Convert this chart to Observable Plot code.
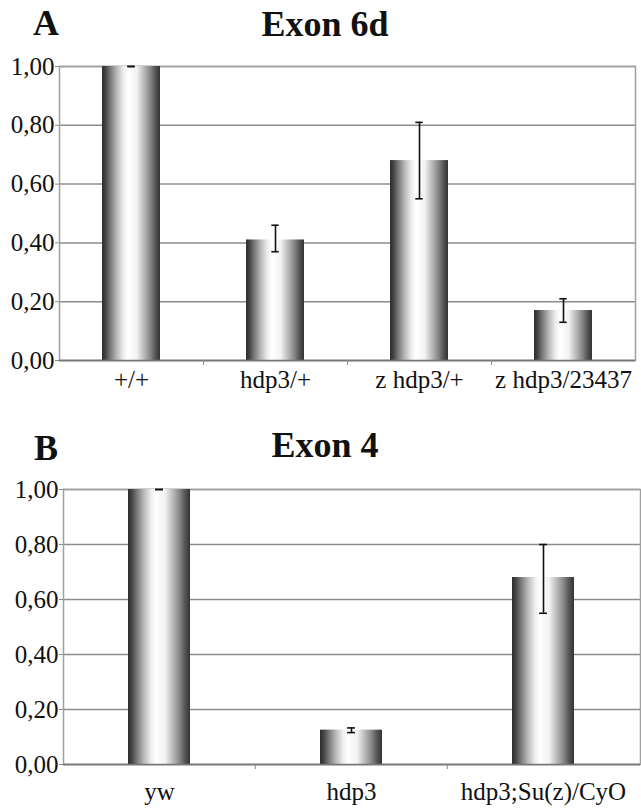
<!DOCTYPE html>
<html><head><meta charset="utf-8">
<script src="https://cdn.jsdelivr.net/npm/d3@7"></script>
<script src="https://cdn.jsdelivr.net/npm/@observablehq/plot@0.6"></script>
<style>
body{margin:0;background:#fff;}
#page{position:relative;width:641px;height:808px;overflow:hidden;font-family:"Liberation Serif","Times New Roman",serif;background:#fff;}
.title{position:absolute;font-weight:bold;font-size:36px;line-height:36px;color:#111;white-space:nowrap;}
.chart{position:absolute;left:0;}
</style></head><body>
<div id="page">
  <div class="title" style="left:33px;top:5px">A</div>
  <div class="title" style="left:325px;top:6px;transform:translateX(-50%)">Exon 6d</div>
  <div class="chart" id="chartA" style="top:46px"></div>
  <div class="title" style="left:34px;top:430px">B</div>
  <div class="title" style="left:325px;top:427px;transform:translateX(-50%)">Exon 4</div>
  <div class="chart" id="chartB" style="top:468px"></div>
</div>
<script>
// ---- data ----
const yTicks = [0, 0.2, 0.4, 0.6, 0.8, 1.0];
const yTickLabels = ["0,00", "0,20", "0,40", "0,60", "0,80", "1,00"];

const catsA = ["+/+", "hdp3/+", "z hdp3/+", "z hdp3/23437"];
const valsA = [1.00, 0.41, 0.68, 0.17];
const errLoA = [1.00, 0.37, 0.55, 0.13];
const errHiA = [1.00, 0.46, 0.81, 0.21];

const catsB = ["yw", "hdp3", "hdp3;Su(z)/CyO"];
const valsB = [1.00, 0.125, 0.68];
const errLoB = [1.00, 0.116, 0.55];
const errHiB = [1.00, 0.133, 0.80];

const labelMap = new Map(yTicks.map((t, i) => [t, yTickLabels[i]]));

// gradient style (dark edges, light centre)
const gradStops = [
  [0, "#2e2e2e"], [0.06, "#444"], [0.14, "#777"], [0.26, "#bbb"], [0.37, "#eee"],
  [0.45, "#fff"], [0.6, "#f2f2f2"], [0.72, "#bbb"], [0.83, "#888"], [0.92, "#555"], [1, "#333"]
];

function addGradient(svg, id) {
  const ns = "http://www.w3.org/2000/svg";
  const defs = document.createElementNS(ns, "defs");
  const g = document.createElementNS(ns, "linearGradient");
  g.setAttribute("id", id);
  g.setAttribute("x1", "0"); g.setAttribute("y1", "0");
  g.setAttribute("x2", "1"); g.setAttribute("y2", "0");
  for (const [o, c] of gradStops) {
    const s = document.createElementNS(ns, "stop");
    s.setAttribute("offset", o);
    s.setAttribute("stop-color", c);
    g.appendChild(s);
  }
  defs.appendChild(g);
  svg.insertBefore(defs, svg.firstChild);
}

function drawChart(o) {
  const W = 641;
  const n = o.cats.length;
  const step = (W - o.mL - o.mR) / n;
  const bw = step * o.barFrac;
  const capInset = (bw - o.capW) / 2;
  const rows = o.cats.map((c, i) => ({name: c, value: o.vals[i], lo: o.lo[i], hi: o.hi[i]}));
  const pi = 1 - o.barFrac;
  const errStyle = {stroke: "#111", strokeWidth: 1.6};
  const svg = Plot.plot({
    width: W, height: o.height,
    marginLeft: o.mL, marginRight: o.mR, marginTop: o.mT, marginBottom: o.mB,
    style: {fontFamily: "'Liberation Serif','Times New Roman',serif", fontSize: "25px", background: "white", color: "#111"},
    x: {domain: o.cats, paddingInner: pi, paddingOuter: pi / 2, label: null},
    y: {domain: [0, 1], label: null},
    marks: [
      Plot.gridY(yTicks, {stroke: "#8c8c8c", strokeOpacity: 1, strokeWidth: 1.5}),
      Plot.frame({stroke: "#a0a0a0", strokeWidth: 1.5}),
      Plot.barY(rows, {x: "name", y: "value", fill: `url(#${o.gradId})`}),
      Plot.ruleY([0], {stroke: "#777", strokeWidth: 1.5}),
      Plot.ruleX(rows, {x: "name", y1: "lo", y2: "hi", ...errStyle}),
      Plot.tickY(rows, {x: "name", y: "lo", insetLeft: capInset, insetRight: capInset, ...errStyle}),
      Plot.tickY(rows, {x: "name", y: "hi", insetLeft: capInset, insetRight: capInset, ...errStyle}),
      Plot.axisY(yTicks, {tickFormat: d => labelMap.get(d), tickSize: 4, tickPadding: 1, stroke: "#888", fill: "#111", fontSize: 25, label: null}),
      Plot.axisX({tickSize: 0, tickPadding: o.labelPad, fill: "#111", fontSize: 25, label: null}),
      Plot.axisX(o.cats.slice(1), {tickSize: 5, tickFormat: () => "", dx: -step / 2, stroke: "#888", label: null})
    ]
  });
  addGradient(svg, o.gradId);
  document.getElementById(o.target).appendChild(svg);
}

drawChart({target: "chartA", gradId: "gradA", cats: catsA, vals: valsA, lo: errLoA, hi: errHiA,
  height: 350, mL: 59, mR: 6, mT: 20, mB: 36, barFrac: 0.4, labelPad: 10, capW: 7});
drawChart({target: "chartB", gradId: "gradB", cats: catsB, vals: valsB, lo: errLoB, hi: errHiB,
  height: 340, mL: 63, mR: 1, mT: 21, mB: 44, barFrac: 0.323, labelPad: 18, capW: 8});
</script>
</body></html>
